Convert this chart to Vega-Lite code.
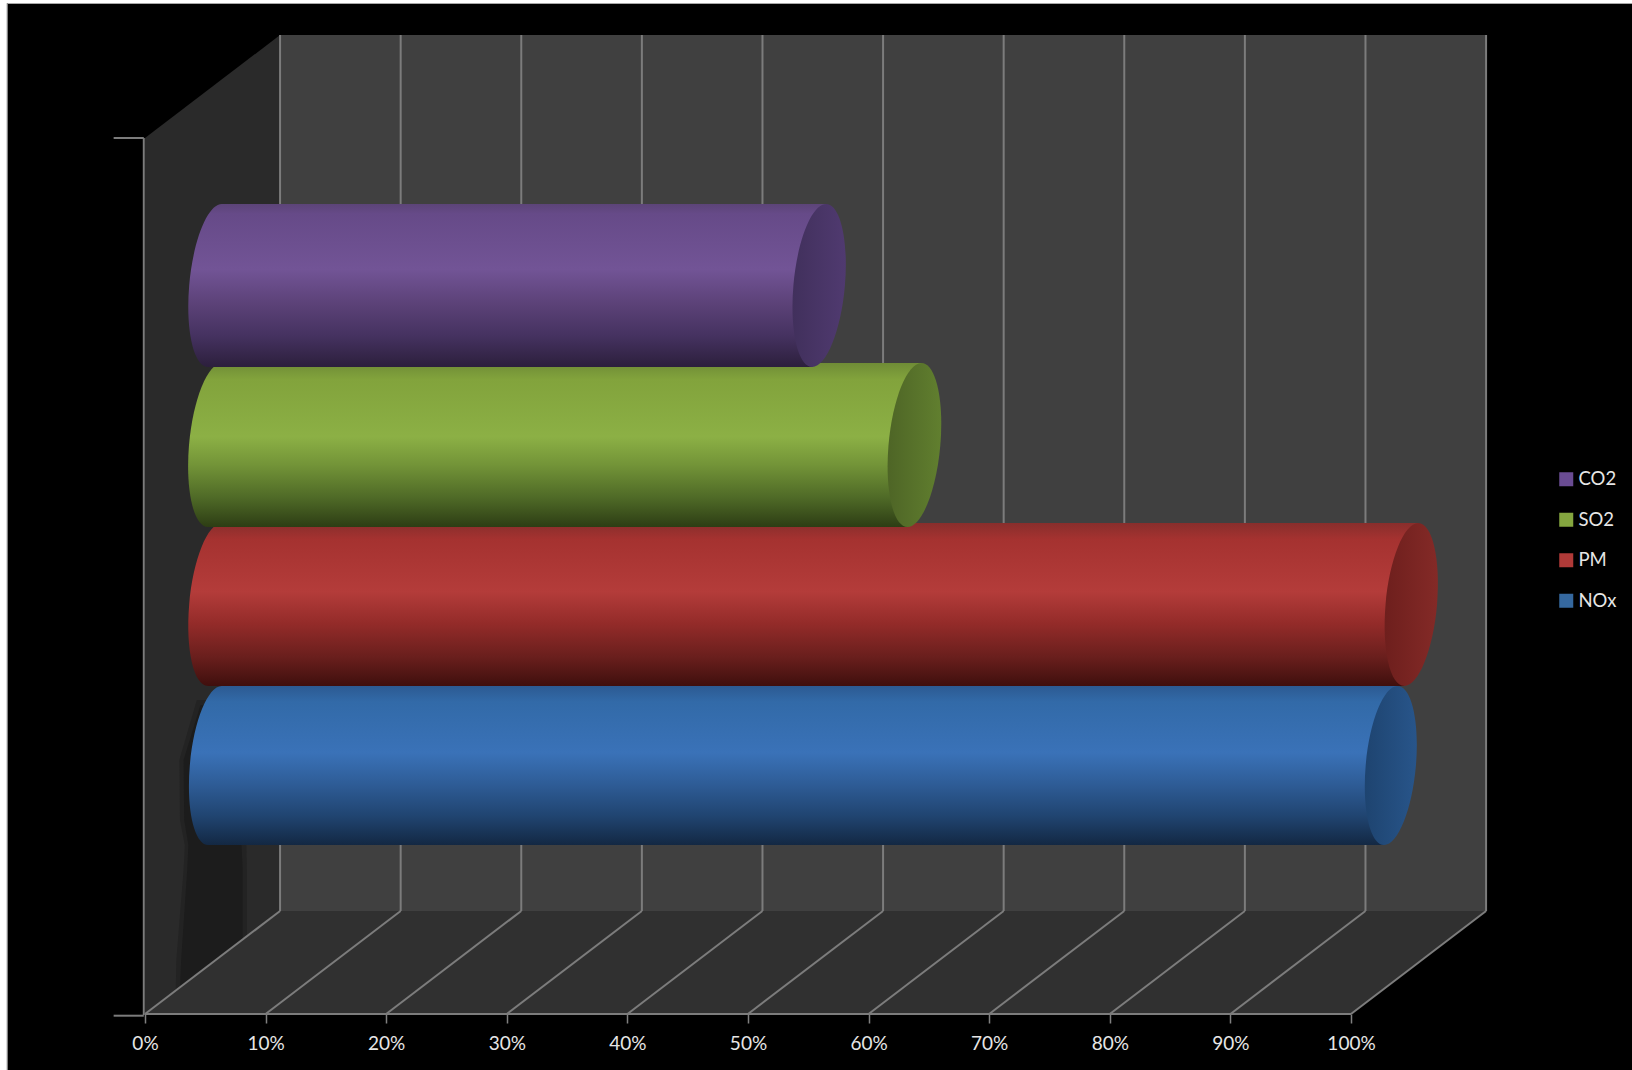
{
"$schema":"https://vega.github.io/schema/vega-lite/v6.json",
"width":1632,"height":1070,"padding":0,"autosize":{"type":"none"},
"background":"#000000",
"config":{"view":{"stroke":null},"font":"Lato"},
"datasets":{
"series":[{"series":"CO2","x":50,"y":500},{"series":"SO2","x":50,"y":500},{"series":"PM","x":50,"y":500},{"series":"NOx","x":50,"y":500}],
"backwall":[{"x":11.2,"x2":111.2,"y":103,"y2":979}],
"sidewall":[{"x":0,"y":0,"y2":876},{"x":11.2,"y":103,"y2":979}],
"floor":[{"y":0,"x":0,"x2":100},{"y":103,"x":11.2,"x2":111.2}],
"shadowhalo":[{"y":314,"x":4.3,"x2":6},{"y":254,"x":2.85,"x2":6},{"y":194,"x":2.9,"x2":6},{"y":169,"x":3.3,"x2":8.4},{"y":144,"x":3.2,"x2":8.45},{"y":54,"x":2.6,"x2":8.45},{"y":24,"x":2.55,"x2":8.45}],
"shadow":[{"y":309,"x":4.6,"x2":6},{"y":254,"x":3.2,"x2":6},{"y":194,"x":3.25,"x2":6},{"y":169,"x":3.6,"x2":8},{"y":144,"x":3.5,"x2":8.1},{"y":54,"x":3.0,"x2":8.1},{"y":24,"x":2.9,"x2":8.1}],
"grid":[
{"x":11.2,"x2":11.2,"y":103,"y2":979},{"x":21.2,"x2":21.2,"y":103,"y2":979},{"x":31.2,"x2":31.2,"y":103,"y2":979},{"x":41.2,"x2":41.2,"y":103,"y2":979},{"x":51.2,"x2":51.2,"y":103,"y2":979},{"x":61.2,"x2":61.2,"y":103,"y2":979},{"x":71.2,"x2":71.2,"y":103,"y2":979},{"x":81.2,"x2":81.2,"y":103,"y2":979},{"x":91.2,"x2":91.2,"y":103,"y2":979},{"x":101.2,"x2":101.2,"y":103,"y2":979},{"x":111.2,"x2":111.2,"y":103,"y2":979},
{"x":0,"x2":11.2,"y":0,"y2":103},{"x":10,"x2":21.2,"y":0,"y2":103},{"x":20,"x2":31.2,"y":0,"y2":103},{"x":30,"x2":41.2,"y":0,"y2":103},{"x":40,"x2":51.2,"y":0,"y2":103},{"x":50,"x2":61.2,"y":0,"y2":103},{"x":60,"x2":71.2,"y":0,"y2":103},{"x":70,"x2":81.2,"y":0,"y2":103},{"x":80,"x2":91.2,"y":0,"y2":103},{"x":90,"x2":101.2,"y":0,"y2":103},{"x":100,"x2":111.2,"y":0,"y2":103},
{"x":0,"x2":100,"y":0,"y2":0},
{"x":-0.1,"x2":-0.1,"y":-1,"y2":876},
{"x":-2.6,"x2":-0.1,"y":876,"y2":876},
{"x":-2.6,"x2":-0.1,"y":-1.7,"y2":-1.7}
],
"margin":[{"x":-12.023,"x2":-11.45,"y":-56,"y2":1014},{"x":-12.023,"x2":123.3,"y":1011,"y2":1014}],
"frame":[{"x":-11.42,"x2":-11.42,"y":-56,"y2":1010.5},{"x":-11.42,"x2":123.3,"y":1010.5,"y2":1010.5}],
"bodies":[
{"series":"CO2","y":810,"x":6.375,"x2":56.475},{"series":"CO2","y":647,"x":5.225,"x2":55.325},
{"series":"SO2","y":651,"x":6.375,"x2":64.375},{"series":"SO2","y":487,"x":5.225,"x2":63.225},
{"series":"PM","y":491,"x":6.375,"x2":105.575},{"series":"PM","y":328,"x":5.225,"x2":104.425},
{"series":"NOx","y":328,"x":6.375,"x2":103.875},{"series":"NOx","y":169,"x":5.225,"x2":102.725}
],
"leftcaps":[{"series":"CO2","x":5.8,"y":728.5},{"series":"SO2","x":5.8,"y":569},{"series":"PM","x":5.8,"y":409.5},{"series":"NOx","x":5.8,"y":248.5}],
"rightcaps":[{"series":"CO2","x":55.9,"y":728.5,"value":50.1},{"series":"SO2","x":63.8,"y":569,"value":58},{"series":"PM","x":105,"y":409.5,"value":99.2},{"series":"NOx","x":103.3,"y":248.5,"value":97.5}]
},
"encoding":{
"x":{"field":"x","type":"quantitative","title":null,"scale":{"domain":[-12.023,123.3],"nice":false,"zero":false},
"axis":{"values":[0,10,20,30,40,50,60,70,80,90,100],"labelExpr":"datum.value+'%'","domain":false,"grid":false,"offset":-56,"tickColor":"#808080","tickSize":9,"tickWidth":1.5,"labelColor":"#e6e6e6","labelFontSize":19,"labelFont":"Lato","labelPadding":11,"labelFlush":false,"labelOverlap":false}},
"y":{"field":"y","type":"quantitative","title":null,"axis":null,"scale":{"domain":[-56,1014],"nice":false,"zero":false}}
},
"layer":[
{"data":{"name":"series"},"mark":{"type":"point","filled":true,"size":1,"opacity":1,"shape":"square"},
 "encoding":{"color":{"field":"series","type":"nominal","scale":{"domain":["CO2","SO2","PM","NOx"],"range":["#6a4c93","#84a63f","#b03a38","#35689f"]},
 "legend":{"title":null,"orient":"none","legendX":1557,"legendY":470,"symbolType":"square","symbolSize":196,"symbolStrokeWidth":0,"symbolOpacity":1,"labelColor":"#e6e6e6","labelFont":"Lato","labelFontSize":18.5,"labelOffset":3,"rowPadding":21.5,"labelLimit":70}}}},
{"data":{"name":"sidewall"},"mark":{"type":"area","color":"#2a2a2a"},"encoding":{"y2":{"field":"y2"}}},
{"data":{"name":"shadowhalo"},"mark":{"type":"area","orient":"horizontal","color":"#232323"},"encoding":{"x2":{"field":"x2"}}},
{"data":{"name":"shadow"},"mark":{"type":"area","orient":"horizontal","color":"#1c1c1c"},"encoding":{"x2":{"field":"x2"}}},
{"data":{"name":"backwall"},"mark":{"type":"rect","color":"#404040"},"encoding":{"x2":{"field":"x2"},"y2":{"field":"y2"}}},
{"data":{"name":"floor"},"mark":{"type":"area","orient":"horizontal","color":"#303030"},"encoding":{"x2":{"field":"x2"}}},
{"data":{"name":"grid"},"mark":{"type":"rule","color":"#7c7c7c","strokeWidth":2},"encoding":{"x2":{"field":"x2"},"y2":{"field":"y2"}}},
{"data":{"name":"margin"},"mark":{"type":"rect","color":"#ffffff"},"encoding":{"x2":{"field":"x2"},"y2":{"field":"y2"}}},
{"data":{"name":"frame"},"mark":{"type":"rule","color":"#a8a8a8","strokeWidth":1},"encoding":{"x2":{"field":"x2"},"y2":{"field":"y2"}}},

{"data":{"name":"bodies"},"transform":[{"filter":"datum.series==='NOx'"}],"mark":{"type":"area","orient":"horizontal","color":{"gradient":"linear","x1":0,"y1":0,"x2":0,"y2":1,"stops":[{"offset":0,"color":"#2c5a92"},{"offset":0.1,"color":"#326aa8"},{"offset":0.42,"color":"#3a72b8"},{"offset":0.62,"color":"#2e5c96"},{"offset":0.82,"color":"#204470"},{"offset":1,"color":"#132843"}]}},"encoding":{"x2":{"field":"x2"}}},
{"data":{"name":"leftcaps"},"transform":[{"filter":"datum.series==='NOx'"}],"mark":{"type":"point","filled":true,"opacity":1,"strokeWidth":0,"size":25281,"shape":"M0.316,0C0.269,0.552,0.0895,1,-0.085,1C-0.2595,1,-0.363,0.552,-0.316,0C-0.269,-0.552,-0.0895,-1,0.085,-1C0.2595,-1,0.363,-0.552,0.316,0Z","fill":{"gradient":"linear","x1":0,"y1":0,"x2":0,"y2":1,"stops":[{"offset":0,"color":"#2c5a92"},{"offset":0.1,"color":"#326aa8"},{"offset":0.42,"color":"#3a72b8"},{"offset":0.62,"color":"#2e5c96"},{"offset":0.82,"color":"#204470"},{"offset":1,"color":"#132843"}]}}},
{"data":{"name":"rightcaps"},"transform":[{"filter":"datum.series==='NOx'"}],"mark":{"type":"point","filled":true,"opacity":1,"strokeWidth":0,"size":25281,"shape":"M0.316,0C0.269,0.552,0.0895,1,-0.085,1C-0.2595,1,-0.363,0.552,-0.316,0C-0.269,-0.552,-0.0895,-1,0.085,-1C0.2595,-1,0.363,-0.552,0.316,0Z","fill":{"gradient":"linear","x1":0,"y1":0,"x2":1,"y2":0,"stops":[{"offset":0,"color":"#1e4470"},{"offset":1,"color":"#28558a"}]}}},

{"data":{"name":"bodies"},"transform":[{"filter":"datum.series==='PM'"}],"mark":{"type":"area","orient":"horizontal","color":{"gradient":"linear","x1":0,"y1":0,"x2":0,"y2":1,"stops":[{"offset":0,"color":"#882e2c"},{"offset":0.1,"color":"#a53230"},{"offset":0.42,"color":"#b43c3a"},{"offset":0.62,"color":"#932b29"},{"offset":0.82,"color":"#6a1f1d"},{"offset":1,"color":"#3f0f0d"}]}},"encoding":{"x2":{"field":"x2"}}},
{"data":{"name":"leftcaps"},"transform":[{"filter":"datum.series==='PM'"}],"mark":{"type":"point","filled":true,"opacity":1,"strokeWidth":0,"size":26569,"shape":"M0.316,0C0.269,0.552,0.0895,1,-0.085,1C-0.2595,1,-0.363,0.552,-0.316,0C-0.269,-0.552,-0.0895,-1,0.085,-1C0.2595,-1,0.363,-0.552,0.316,0Z","fill":{"gradient":"linear","x1":0,"y1":0,"x2":0,"y2":1,"stops":[{"offset":0,"color":"#882e2c"},{"offset":0.1,"color":"#a53230"},{"offset":0.42,"color":"#b43c3a"},{"offset":0.62,"color":"#932b29"},{"offset":0.82,"color":"#6a1f1d"},{"offset":1,"color":"#3f0f0d"}]}}},
{"data":{"name":"rightcaps"},"transform":[{"filter":"datum.series==='PM'"}],"mark":{"type":"point","filled":true,"opacity":1,"strokeWidth":0,"size":26569,"shape":"M0.316,0C0.269,0.552,0.0895,1,-0.085,1C-0.2595,1,-0.363,0.552,-0.316,0C-0.269,-0.552,-0.0895,-1,0.085,-1C0.2595,-1,0.363,-0.552,0.316,0Z","fill":{"gradient":"linear","x1":0,"y1":0,"x2":1,"y2":0,"stops":[{"offset":0,"color":"#6e1f1d"},{"offset":1,"color":"#842a27"}]}}},

{"data":{"name":"bodies"},"transform":[{"filter":"datum.series==='SO2'"}],"mark":{"type":"area","orient":"horizontal","color":{"gradient":"linear","x1":0,"y1":0,"x2":0,"y2":1,"stops":[{"offset":0,"color":"#6f8c36"},{"offset":0.1,"color":"#82a33c"},{"offset":0.45,"color":"#8cb045"},{"offset":0.62,"color":"#739438"},{"offset":0.82,"color":"#4f6a27"},{"offset":1,"color":"#2d3d14"}]}},"encoding":{"x2":{"field":"x2"}}},
{"data":{"name":"leftcaps"},"transform":[{"filter":"datum.series==='SO2'"}],"mark":{"type":"point","filled":true,"opacity":1,"strokeWidth":0,"size":26896,"shape":"M0.316,0C0.269,0.552,0.0895,1,-0.085,1C-0.2595,1,-0.363,0.552,-0.316,0C-0.269,-0.552,-0.0895,-1,0.085,-1C0.2595,-1,0.363,-0.552,0.316,0Z","fill":{"gradient":"linear","x1":0,"y1":0,"x2":0,"y2":1,"stops":[{"offset":0,"color":"#6f8c36"},{"offset":0.1,"color":"#82a33c"},{"offset":0.45,"color":"#8cb045"},{"offset":0.62,"color":"#739438"},{"offset":0.82,"color":"#4f6a27"},{"offset":1,"color":"#2d3d14"}]}}},
{"data":{"name":"rightcaps"},"transform":[{"filter":"datum.series==='SO2'"}],"mark":{"type":"point","filled":true,"opacity":1,"strokeWidth":0,"size":26896,"shape":"M0.316,0C0.269,0.552,0.0895,1,-0.085,1C-0.2595,1,-0.363,0.552,-0.316,0C-0.269,-0.552,-0.0895,-1,0.085,-1C0.2595,-1,0.363,-0.552,0.316,0Z","fill":{"gradient":"linear","x1":0,"y1":0,"x2":1,"y2":0,"stops":[{"offset":0,"color":"#4e6526"},{"offset":1,"color":"#617f2f"}]}}},

{"data":{"name":"bodies"},"transform":[{"filter":"datum.series==='CO2'"}],"mark":{"type":"area","orient":"horizontal","color":{"gradient":"linear","x1":0,"y1":0,"x2":0,"y2":1,"stops":[{"offset":0,"color":"#5c4478"},{"offset":0.06,"color":"#664a88"},{"offset":0.4,"color":"#725496"},{"offset":0.61,"color":"#5c4278"},{"offset":0.81,"color":"#453260"},{"offset":1,"color":"#2c1f3c"}]}},"encoding":{"x2":{"field":"x2"}}},
{"data":{"name":"leftcaps"},"transform":[{"filter":"datum.series==='CO2'"}],"mark":{"type":"point","filled":true,"opacity":1,"strokeWidth":0,"size":26569,"shape":"M0.316,0C0.269,0.552,0.0895,1,-0.085,1C-0.2595,1,-0.363,0.552,-0.316,0C-0.269,-0.552,-0.0895,-1,0.085,-1C0.2595,-1,0.363,-0.552,0.316,0Z","fill":{"gradient":"linear","x1":0,"y1":0,"x2":0,"y2":1,"stops":[{"offset":0,"color":"#5c4478"},{"offset":0.06,"color":"#664a88"},{"offset":0.4,"color":"#725496"},{"offset":0.61,"color":"#5c4278"},{"offset":0.81,"color":"#453260"},{"offset":1,"color":"#2c1f3c"}]}}},
{"data":{"name":"rightcaps"},"transform":[{"filter":"datum.series==='CO2'"}],"mark":{"type":"point","filled":true,"opacity":1,"strokeWidth":0,"size":26569,"shape":"M0.316,0C0.269,0.552,0.0895,1,-0.085,1C-0.2595,1,-0.363,0.552,-0.316,0C-0.269,-0.552,-0.0895,-1,0.085,-1C0.2595,-1,0.363,-0.552,0.316,0Z","fill":{"gradient":"linear","x1":0,"y1":0,"x2":1,"y2":0,"stops":[{"offset":0,"color":"#41305c"},{"offset":1,"color":"#503a70"}]}}}
]
}
